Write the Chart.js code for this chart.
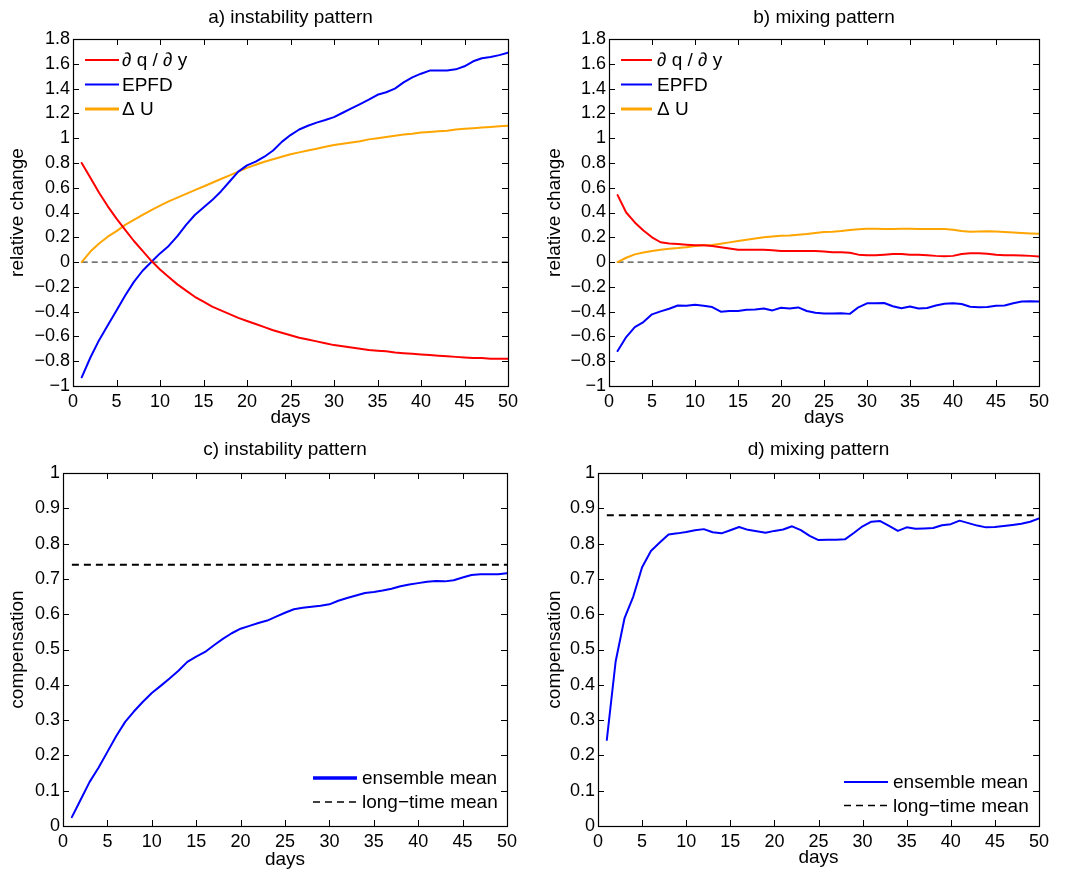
<!DOCTYPE html>
<html><head><meta charset="utf-8">
<script src="https://cdn.jsdelivr.net/npm/chart.js@4.4.1/dist/chart.umd.min.js"></script>
<style>
html,body{margin:0;padding:0;background:#fff;width:1065px;height:869px;overflow:hidden;position:relative}
canvas{position:absolute;display:block}
</style></head><body>
<canvas id="ca" width="532" height="432" style="left:0;top:0"></canvas>
<canvas id="cb" width="533" height="432" style="left:532px;top:0"></canvas>
<canvas id="cc" width="532" height="445" style="left:0;top:432px"></canvas>
<canvas id="cd" width="533" height="445" style="left:532px;top:432px"></canvas>
<script>
// ---------- data ----------
const days = [1,2,3,4,5,6,7,8,9,10,11,12,13,14,15,16,17,18,19,20,21,22,23,24,25,
  26,27,28,29,30,31,32,33,34,35,36,37,38,39,40,41,42,43,44,45,46,47,48,49,50];

const aDqdy = [0.80,0.68,0.56,0.45,0.35,0.26,0.17,0.09,0.01,-0.06,
  -0.12,-0.18,-0.23,-0.28,-0.32,-0.36,-0.39,-0.42,-0.45,-0.475,
  -0.50,-0.525,-0.55,-0.57,-0.59,-0.61,-0.625,-0.64,-0.655,-0.67,
  -0.68,-0.69,-0.70,-0.71,-0.715,-0.72,-0.73,-0.735,-0.74,-0.745,
  -0.75,-0.755,-0.76,-0.765,-0.77,-0.775,-0.775,-0.78,-0.78,-0.78];
const aEPFD = [-0.93,-0.77,-0.63,-0.51,-0.39,-0.27,-0.16,-0.07,0.00,0.07,
  0.13,0.21,0.30,0.38,0.44,0.50,0.57,0.65,0.73,0.78,
  0.81,0.85,0.90,0.97,1.025,1.07,1.10,1.125,1.146,1.17,
  1.205,1.24,1.275,1.31,1.35,1.37,1.40,1.45,1.49,1.52,
  1.545,1.545,1.545,1.555,1.58,1.62,1.645,1.655,1.67,1.69];
const aDU = [0.00,0.085,0.15,0.205,0.25,0.30,0.34,0.38,0.42,0.455,
  0.49,0.52,0.55,0.58,0.61,0.64,0.67,0.70,0.73,0.76,
  0.785,0.81,0.83,0.85,0.87,0.885,0.90,0.915,0.93,0.945,
  0.955,0.965,0.975,0.99,1.00,1.01,1.02,1.03,1.035,1.045,
  1.05,1.055,1.06,1.07,1.075,1.08,1.085,1.09,1.095,1.10];

const bDqdy = [0.54,0.40,0.32,0.255,0.20,0.16,0.15,0.145,0.14,0.135,
  0.135,0.13,0.12,0.11,0.10,0.10,0.10,0.10,0.095,0.09,
  0.09,0.09,0.09,0.09,0.085,0.08,0.08,0.075,0.06,0.055,
  0.055,0.06,0.065,0.065,0.06,0.06,0.055,0.05,0.047,0.05,
  0.065,0.072,0.072,0.068,0.06,0.056,0.055,0.053,0.05,0.045];
const bEPFD = [-0.718,-0.605,-0.525,-0.484,-0.422,-0.398,-0.377,-0.35,-0.352,-0.344,
  -0.352,-0.363,-0.40,-0.395,-0.395,-0.385,-0.382,-0.374,-0.39,-0.368,
  -0.374,-0.366,-0.395,-0.409,-0.414,-0.415,-0.413,-0.418,-0.365,-0.333,
  -0.332,-0.330,-0.356,-0.372,-0.358,-0.375,-0.37,-0.35,-0.337,-0.333,
  -0.338,-0.36,-0.364,-0.362,-0.352,-0.351,-0.332,-0.318,-0.317,-0.319];
const bDU = [0.00,0.035,0.062,0.078,0.089,0.10,0.108,0.113,0.12,0.13,
  0.135,0.137,0.148,0.159,0.17,0.18,0.19,0.20,0.207,0.212,
  0.215,0.22,0.226,0.234,0.242,0.245,0.25,0.258,0.265,0.268,
  0.269,0.267,0.266,0.268,0.269,0.267,0.266,0.266,0.266,0.26,
  0.25,0.245,0.246,0.248,0.246,0.242,0.238,0.234,0.231,0.229];

const cEnsemble = [0.025,0.075,0.125,0.165,0.21,0.255,0.295,0.325,0.352,0.377,
  0.397,0.418,0.44,0.465,0.48,0.493,0.512,0.53,0.546,0.559,
  0.567,0.575,0.582,0.593,0.604,0.614,0.618,0.621,0.624,0.628,
  0.638,0.646,0.653,0.66,0.663,0.667,0.672,0.679,0.684,0.688,
  0.692,0.694,0.693,0.696,0.704,0.711,0.713,0.713,0.713,0.716];
const dEnsemble = [0.244,0.466,0.588,0.65,0.733,0.779,0.803,0.826,0.829,0.833,
  0.838,0.841,0.832,0.829,0.838,0.847,0.839,0.835,0.831,0.836,
  0.84,0.849,0.838,0.822,0.81,0.811,0.811,0.812,0.83,0.849,
  0.862,0.864,0.85,0.836,0.846,0.842,0.843,0.844,0.852,0.855,
  0.865,0.858,0.851,0.846,0.847,0.85,0.853,0.856,0.862,0.871];
const cLongMean = 0.74;
const dLongMean = 0.88;
const zeroLevel = 0;

const xTicks = [0,5,10,15,20,25,30,35,40,45,50];
const xTickLabels = ['0','5','10','15','20','25','30','35','40','45','50'];
const relTicks = [-1,-0.8,-0.6,-0.4,-0.2,0,0.2,0.4,0.6,0.8,1,1.2,1.4,1.6,1.8];
const relTickLabels = ['\u22121','\u22120.8','\u22120.6','\u22120.4','\u22120.2','0','0.2','0.4','0.6','0.8','1','1.2','1.4','1.6','1.8'];
const compTicks = [0,0.1,0.2,0.3,0.4,0.5,0.6,0.7,0.8,0.9,1];
const compTickLabels = ['0','0.1','0.2','0.3','0.4','0.5','0.6','0.7','0.8','0.9','1'];

// ---------- helpers ----------
const FONT = '"Liberation Sans", Arial, Helvetica, sans-serif';
Chart.defaults.font.family = FONT;
Chart.defaults.font.size = 18;
Chart.defaults.color = '#000';

const pts = (arr) => arr.map((v, i) => ({x: days[i], y: v}));
const flat = (v) => [{x: days[0], y: v}, {x: days[days.length - 1], y: v}];

const matlabAxes = {
  id: 'matlabAxes',
  afterDraw(chart) {
    const {ctx, chartArea: {left, right, top, bottom}} = chart;
    const xs = chart.scales.x, ys = chart.scales.y;
    const L = 6;
    ctx.save();
    ctx.strokeStyle = '#000';
    ctx.lineWidth = 1;
    ctx.beginPath();
    xs.ticks.forEach(t => {
      const px = Math.round(xs.getPixelForValue(t.value)) + 0.5;
      ctx.moveTo(px, bottom); ctx.lineTo(px, bottom - L);
      ctx.moveTo(px, top); ctx.lineTo(px, top + L);
    });
    ys.ticks.forEach(t => {
      const py = Math.round(ys.getPixelForValue(t.value)) + 0.5;
      ctx.moveTo(left, py); ctx.lineTo(left + L, py);
      ctx.moveTo(right, py); ctx.lineTo(right - L, py);
    });
    ctx.stroke();
    ctx.lineWidth = 1.2;
    ctx.strokeRect(Math.round(left) + 0.5, Math.round(top) + 0.5, Math.round(right - left), Math.round(bottom - top));
    ctx.restore();
  }
};

const insideLegend = {
  id: 'insideLegend',
  afterDraw(chart, args, opts) {
    if (!opts || !opts.items) return;
    const {ctx, chartArea} = chart;
    ctx.save();
    ctx.font = '19px ' + FONT;
    ctx.textBaseline = 'middle';
    ctx.textAlign = 'left';
    opts.items.forEach((it, i) => {
      const ds = chart.data.datasets[it.ds];
      const y = chartArea.top + opts.y0 + i * opts.dy;
      const x0 = chartArea.left + opts.x0, x1 = chartArea.left + opts.x1;
      ctx.beginPath();
      ctx.setLineDash(ds.borderDash || []);
      ctx.lineWidth = it.lw;
      ctx.strokeStyle = ds.borderColor;
      ctx.moveTo(x0, y); ctx.lineTo(x1, y);
      ctx.stroke();
      ctx.setLineDash([]);
      ctx.fillStyle = '#000';
      ctx.fillText(ds.label, x1 + opts.gap, y + 1);
    });
    ctx.restore();
  }
};

function makeChart(id, p) {
  return new Chart(document.getElementById(id), {
    type: 'line',
    data: {datasets: p.datasets},
    options: {
      responsive: false,
      animation: false,
      layout: {padding: {left: 0, right: p.padRight, top: 0, bottom: 0}},
      elements: {point: {radius: 0}, line: {tension: 0, borderCapStyle: 'round', borderJoinStyle: 'round'}},
      plugins: {
        legend: {display: false},
        tooltip: {enabled: false},
        title: {display: true, text: p.title, fullSize: false, color: '#000',
          font: {size: 19, weight: 'normal'}, padding: {top: p.titleTop, bottom: p.titleBottom}},
        insideLegend: p.legend
      },
      scales: {
        x: {
          type: 'linear', min: 0, max: 50,
          grid: {display: false, drawTicks: false}, border: {display: false},
          afterBuildTicks: (s) => { s.ticks = xTicks.map(v => ({value: v})); },
          ticks: {autoSkip: false, maxRotation: 0, padding: 5, font: {size: 18},
            callback: (v, i) => xTickLabels[i]},
          afterFit: (s) => { s.height = p.xHeight; },
          title: {display: true, text: 'days', font: {size: 19}, padding: {top: 0, bottom: p.xTitlePad}}
        },
        y: {
          type: 'linear', min: p.yTicks[0], max: p.yTicks[p.yTicks.length - 1],
          grid: {display: false, drawTicks: false}, border: {display: false},
          afterBuildTicks: (s) => { s.ticks = p.yTicks.map(v => ({value: v})); },
          ticks: {autoSkip: false, padding: 3, font: {size: 18},
            callback: (v, i) => p.yLabels[i]},
          afterFit: (s) => { s.width = p.yWidth; },
          title: {display: true, text: p.yTitle, font: {size: 19}, padding: {top: p.yTitlePad, bottom: 0}}
        }
      }
    },
    plugins: [matlabAxes, insideLegend]
  });
}

const zeroDs = (v) => ({label: '', data: flat(v), borderColor: '#444', borderWidth: 1.3, borderDash: [6, 4], borderCapStyle: 'butt'});

// a) instability pattern
makeChart('ca', {
  title: 'a) instability pattern', titleTop: 6.6, titleBottom: 9.6,
  padRight: 24, yWidth: 73, xHeight: 46, xTitlePad: 2.6, yTitlePad: 6.6,
  yTicks: relTicks, yLabels: relTickLabels, yTitle: 'relative change',
  datasets: [
    {label: '\u2202 q / \u2202 y', data: pts(aDqdy), borderColor: '#ff0000', borderWidth: 2},
    {label: 'EPFD', data: pts(aEPFD), borderColor: '#0000ff', borderWidth: 2},
    {label: '\u0394 U', data: pts(aDU), borderColor: '#ffa500', borderWidth: 2},
    zeroDs(zeroLevel)
  ],
  legend: {x0: 12, x1: 46, gap: 3, y0: 21, dy: 24.5, items: [{ds: 0, lw: 2}, {ds: 1, lw: 2}, {ds: 2, lw: 3}]}
});

// b) mixing pattern
makeChart('cb', {
  title: 'b) mixing pattern', titleTop: 6.6, titleBottom: 9.6,
  padRight: 26, yWidth: 77, xHeight: 46, xTitlePad: 2.6, yTitlePad: 11.6,
  yTicks: relTicks, yLabels: relTickLabels, yTitle: 'relative change',
  datasets: [
    {label: '\u2202 q / \u2202 y', data: pts(bDqdy), borderColor: '#ff0000', borderWidth: 2},
    {label: 'EPFD', data: pts(bEPFD), borderColor: '#0000ff', borderWidth: 2},
    {label: '\u0394 U', data: pts(bDU), borderColor: '#ffa500', borderWidth: 2},
    zeroDs(zeroLevel)
  ],
  legend: {x0: 12, x1: 43, gap: 5, y0: 21, dy: 24.5, items: [{ds: 0, lw: 2}, {ds: 1, lw: 2}, {ds: 2, lw: 3}]}
});

// c) instability pattern (compensation)
makeChart('cc', {
  title: 'c) instability pattern', titleTop: 6.6, titleBottom: 11.6,
  padRight: 25, yWidth: 63, xHeight: 51, xTitlePad: 5.6, yTitlePad: 6.6,
  yTicks: compTicks, yLabels: compTickLabels, yTitle: 'compensation',
  datasets: [
    {label: 'ensemble mean', data: pts(cEnsemble), borderColor: '#0000ff', borderWidth: 2},
    {label: 'long\u2212time mean', data: flat(cLongMean), borderColor: '#000', borderWidth: 2, borderDash: [7, 5], borderCapStyle: 'butt'}
  ],
  legend: {x0: 250, x1: 294, gap: 5, y0: 305, dy: 24, items: [{ds: 0, lw: 3.5}, {ds: 1, lw: 1.6}]}
});

// d) mixing pattern (compensation)
makeChart('cd', {
  title: 'd) mixing pattern', titleTop: 6.6, titleBottom: 11.6,
  padRight: 26, yWidth: 66, xHeight: 51, xTitlePad: 7.6, yTitlePad: 11.6,
  yTicks: compTicks, yLabels: compTickLabels, yTitle: 'compensation',
  datasets: [
    {label: 'ensemble mean', data: pts(dEnsemble), borderColor: '#0000ff', borderWidth: 2},
    {label: 'long\u2212time mean', data: flat(dLongMean), borderColor: '#000', borderWidth: 2, borderDash: [7, 5], borderCapStyle: 'butt'}
  ],
  legend: {x0: 246, x1: 290, gap: 5, y0: 309, dy: 23.5, items: [{ds: 0, lw: 2}, {ds: 1, lw: 1.6}]}
});
</script>
</body></html>
